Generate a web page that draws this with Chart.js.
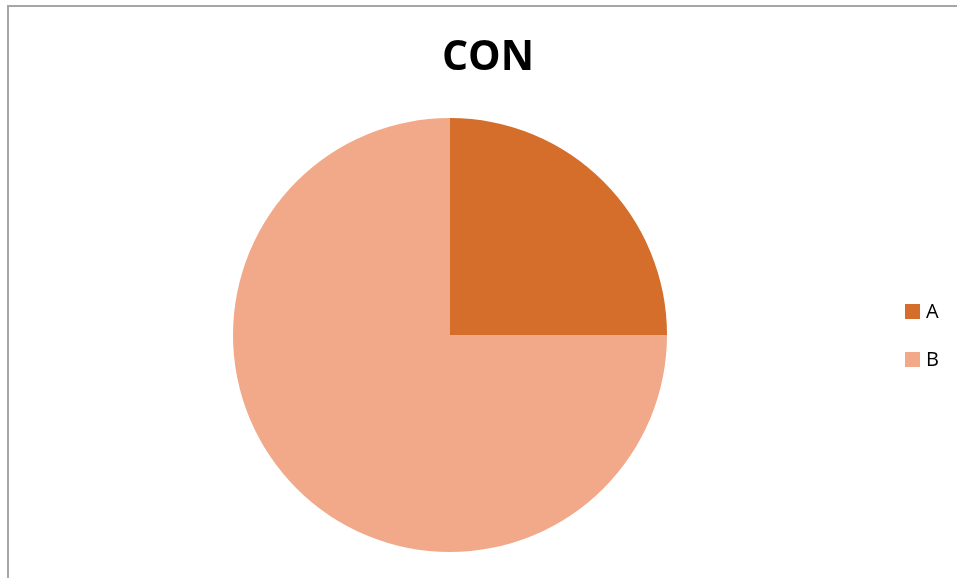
<!DOCTYPE html>
<html>
<head>
<meta charset="utf-8">
<script src="https://cdn.jsdelivr.net/npm/chart.js@4/dist/chart.umd.min.js"></script>
<style>
  html, body { margin: 0; padding: 0; background: #fff; overflow: hidden; }
  #wrap { position: relative; width: 957px; height: 578px; overflow: hidden; }
  #frame { position: absolute; left: 7px; top: 5px; width: 980px; height: 620px;
           border: 2px solid #a6a6a6; box-sizing: border-box; pointer-events: none; }
  #c { position: absolute; left: 0; top: 0; }
</style>
</head>
<body>
<div id="wrap">
  <canvas id="c" width="957" height="578"></canvas>
  <div id="frame"></div>
</div>
<script>
const chartTitle = 'CON';
const categories = ['A', 'B'];
const values = [25, 75];
const sliceColors = ['#D46E2A', '#F2A98A'];

// Title and legend painted beside the pie, using the chart's own labels and colours
const sideDecor = {
  id: 'sideDecor',
  afterDraw(chart) {
    const ctx = chart.ctx;
    ctx.save();
    ctx.fillStyle = '#000';
    ctx.font = 'bold 41px "Open Sans", "Liberation Sans", sans-serif';
    ctx.textAlign = 'center';
    ctx.textBaseline = 'middle';
    ctx.fillText(chartTitle, 488, 58);

    const labels = chart.data.labels;
    const colors = chart.data.datasets[0].backgroundColor;
    ctx.font = '20px "Open Sans", "Liberation Sans", sans-serif';
    ctx.textAlign = 'left';
    labels.forEach((lab, i) => {
      const cy = 311 + i * 48;
      ctx.fillStyle = colors[i];
      ctx.fillRect(905, cy - 7, 15, 15);
      ctx.fillStyle = '#000';
      ctx.fillText(lab, 926, cy + 1);
    });
    ctx.restore();
  }
};

new Chart(document.getElementById('c'), {
  type: 'pie',
  data: {
    labels: categories,
    datasets: [{
      data: values,
      backgroundColor: sliceColors,
      borderWidth: 0
    }]
  },
  options: {
    responsive: false,
    animation: false,
    layout: { padding: { top: 118, bottom: 26, left: 233, right: 290 } },
    plugins: {
      legend: { display: false },
      title: { display: false },
      tooltip: { enabled: false }
    }
  },
  plugins: [sideDecor]
});
</script>
</body>
</html>
